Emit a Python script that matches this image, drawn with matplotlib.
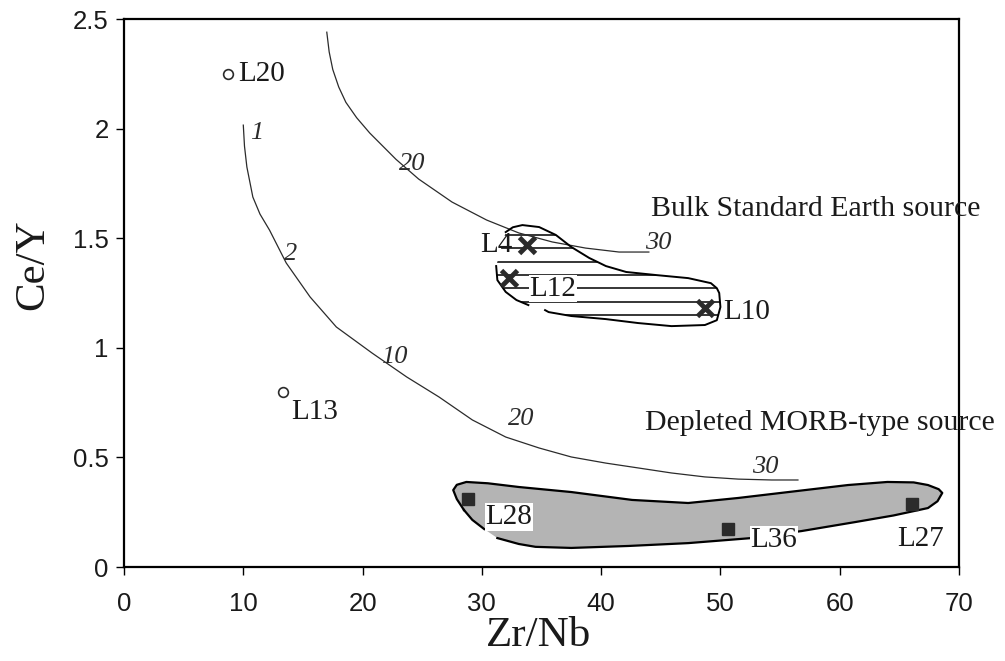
import numpy as np
import matplotlib
matplotlib.use('Agg')
import matplotlib.pyplot as plt
from matplotlib.patches import Polygon

# ===================== DATA =====================
# samples (Zr/Nb, Ce/Y)
open_names = ["L20", "L13"]
open_x = [8.7, 13.3]
open_y = [2.25, 0.80]

bse_names = ["L4", "L12", "L10"]
bse_x = [33.8, 32.3, 48.7]
bse_y = [1.47, 1.32, 1.18]

morb_names = ["L28", "L36", "L27"]
morb_x = [28.8, 50.6, 66.1]
morb_y = [0.31, 0.173, 0.287]

# mixing curve towards depleted MORB source
curve1_x = [10.0, 10.1, 10.3, 10.8, 11.4, 12.2, 13.6, 15.6, 17.8, 20.8, 23.7,
            26.4, 29.2, 32.0, 34.8, 37.5, 40.4, 43.1, 45.9, 48.7, 51.5, 54.3,
            56.5]
curve1_y = [2.016, 1.92, 1.825, 1.688, 1.61, 1.537, 1.387, 1.232, 1.095,
            0.976, 0.867, 0.776, 0.671, 0.593, 0.543, 0.502, 0.474, 0.452,
            0.429, 0.411, 0.401, 0.397, 0.397]
curve1_marks = ["1", "2", "10", "20", "30"]
curve1_mark_x = [11.1, 14.0, 22.7, 33.3, 53.8]
curve1_mark_y = [1.98, 1.43, 0.96, 0.675, 0.455]

# mixing curve towards bulk standard earth source
curve2_x = [17.0, 17.2, 17.5, 18.0, 18.6, 19.5, 20.6, 22.8, 24.7, 27.5, 30.4,
            33.1, 35.9, 38.7, 41.5, 44.0]
curve2_y = [2.44, 2.35, 2.27, 2.19, 2.12, 2.05, 1.98, 1.86, 1.77, 1.665,
            1.583, 1.524, 1.483, 1.455, 1.437, 1.437]
curve2_marks = ["20", "30"]
curve2_mark_x = [24.2, 44.8]
curve2_mark_y = [1.84, 1.48]

# field outlines
bse_field_x = [32.0, 32.6, 33.4, 34.8, 36.2, 37.5, 39.0, 40.4, 42.1, 44.6,
               47.3, 49.2, 49.7, 49.9, 50.0, 49.7, 48.7, 45.9, 43.1, 40.4,
               37.5, 35.6, 35.3]
bse_field_y = [1.528, 1.55, 1.560, 1.551, 1.515, 1.460, 1.410, 1.373, 1.346,
               1.332, 1.318, 1.295, 1.272, 1.25, 1.186, 1.126, 1.104, 1.099,
               1.113, 1.131, 1.145, 1.163, 1.172]
bse_left_x = [31.2, 31.3, 32.0, 32.9, 33.9]
bse_left_y = [1.373, 1.309, 1.255, 1.218, 1.195]
bse_hatch_y = [1.15, 1.211, 1.272, 1.332, 1.393, 1.454, 1.515]

morb_field_x = [28.5, 27.9, 27.6, 27.9, 28.7, 30.5, 33.1, 37.5, 42.6, 47.3,
                51.5, 55.7, 60.7, 64.0, 66.2, 67.4, 68.3, 68.6, 68.2, 67.4,
                64.5, 61.3, 56.8, 52.6, 47.3, 42.3, 37.5, 34.5, 33.1, 31.3]
morb_field_y = [0.26, 0.31, 0.351, 0.375, 0.388, 0.382, 0.365, 0.342, 0.306,
                0.292, 0.315, 0.342, 0.374, 0.388, 0.386, 0.374, 0.355, 0.338,
                0.30, 0.269, 0.235, 0.205, 0.164, 0.132, 0.109, 0.096, 0.087,
                0.092, 0.105, 0.132]
morb_gap_x = [30.2, 29.2, 28.5]
morb_gap_y = [0.173, 0.215, 0.26]

x_ticks = [0, 10, 20, 30, 40, 50, 60, 70]
y_ticks = [0, 0.5, 1, 1.5, 2, 2.5]
y_tick_labels = ["0", "0.5", "1", "1.5", "2", "2.5"]

SERIF = "Liberation Serif"
SANS = "Liberation Sans"
INK = "#2b2b2b"
TXT = "#1a1a1a"

# ===================== PLOT =====================
fig = plt.figure(figsize=(10.05, 6.61), dpi=100)
ax = fig.add_axes([0.1234, 0.1422, 0.8308, 0.829])

# depleted MORB field (grey)
morb_poly = Polygon(np.column_stack([morb_field_x + morb_gap_x,
                                     morb_field_y + morb_gap_y]),
                    closed=True, facecolor="#b4b4b4", edgecolor="none", zorder=1)
ax.add_patch(morb_poly)
ax.plot(morb_field_x, morb_field_y, color="black", lw=1.6, zorder=2,
        solid_joinstyle="round")
ax.plot(morb_gap_x, morb_gap_y, color="black", lw=1.6, zorder=2)

# bulk standard earth field (hatched)
bse_poly = Polygon(np.column_stack([bse_field_x + bse_left_x[::-1],
                                    bse_field_y + bse_left_y[::-1]]),
                   closed=True, facecolor="none", edgecolor="none")
ax.add_patch(bse_poly)
hl = ax.hlines(bse_hatch_y, 30, 51, colors="black", lw=1.1, zorder=2)
hl.set_clip_path(bse_poly)
ax.plot(bse_field_x, bse_field_y, color="black", lw=1.4, zorder=3,
        solid_joinstyle="round")
ax.plot(bse_left_x, bse_left_y, color="black", lw=1.4, zorder=3)

# mixing curves
ax.plot(curve1_x, curve1_y, color=INK, lw=0.9, zorder=2)
ax.plot(curve2_x, curve2_y, color=INK, lw=0.9, zorder=2)
for t, x, y in zip(curve1_marks, curve1_mark_x, curve1_mark_y):
    ax.text(x, y, t, family=SERIF, style="italic", fontsize=19,
            ha="center", va="center", color=INK, zorder=4)
for t, x, y in zip(curve2_marks, curve2_mark_x, curve2_mark_y):
    ax.text(x, y, t, family=SERIF, style="italic", fontsize=19,
            ha="center", va="center", color=INK, zorder=4)

# samples
ax.plot(open_x, open_y, "o", ms=7, mfc="white", mec=INK, mew=1.2, zorder=5)
ax.plot(bse_x, bse_y, "x", ms=12, mec=INK, mew=3.5, zorder=5)
ax.plot(morb_x, morb_y, "s", ms=9, mfc=INK, mec=INK, zorder=5)

# sample labels
lab = dict(family=SERIF, fontsize=21, va="center", color=TXT, zorder=6)
white = dict(facecolor="white", edgecolor="none", pad=0.5)
ax.text(9.6, 2.25, "L20", ha="left", **lab)
ax.text(14.0, 0.707, "L13", ha="left", **lab)
ax.text(32.6, 1.47, "L4", ha="right", **lab)
ax.text(34.0, 1.27, "L12", ha="left", bbox=white, **lab)
ax.text(50.2, 1.165, "L10", ha="left", **lab)
ax.text(30.3, 0.228, "L28", ha="left", bbox=white, **lab)
ax.text(52.5, 0.123, "L36", ha="left", bbox=white, **lab)
ax.text(64.8, 0.128, "L27", ha="left", **lab)

# field names
ax.text(44.2, 1.634, "Bulk Standard Earth source", family=SERIF, fontsize=21.5,
        ha="left", va="center", color=TXT, clip_on=False, zorder=6)
ax.text(43.7, 0.657, "Depleted MORB-type source", family=SERIF, fontsize=21.5,
        ha="left", va="center", color=TXT, clip_on=False, zorder=6)

# ===================== AXES =====================
ax.set_xlim(0, 70)
ax.set_ylim(0, 2.5)
ax.set_xticks(x_ticks)
ax.set_yticks(y_ticks)
ax.set_yticklabels(y_tick_labels)
for s in ax.spines.values():
    s.set_linewidth(1.6)
ax.tick_params(direction="out", length=6, width=1.0, labelsize=18.5)
ax.tick_params(axis="x", pad=12)
ax.tick_params(axis="y", pad=5)
for t in ax.get_xticklabels() + ax.get_yticklabels():
    t.set_family(SANS)
    t.set_color(TXT)

ax.set_xlabel("Zr/Nb", family=SERIF, fontsize=31, color=TXT)
ax.set_ylabel("Ce/Y", family=SERIF, fontsize=31, color=TXT)
ax.xaxis.set_label_coords(0.497, -0.09)
ax.yaxis.set_label_coords(-0.086, 0.551)

plt.savefig("out.png", dpi=100)
plt.close()
